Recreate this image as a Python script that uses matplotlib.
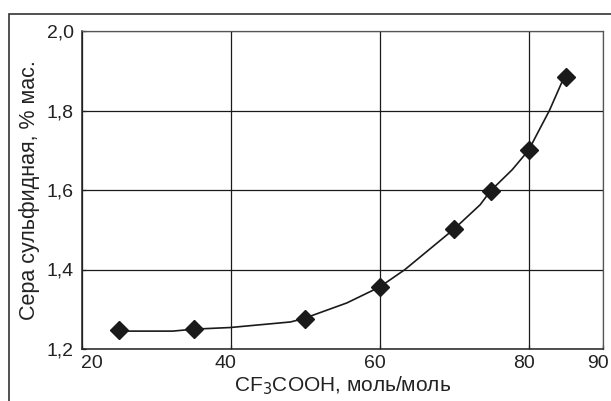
import matplotlib
matplotlib.use("Agg")
import matplotlib.pyplot as plt
from matplotlib.patches import Rectangle
from matplotlib.transforms import ScaledTranslation

plt.rcParams['font.family'] = ['Liberation Sans', 'DejaVu Sans']

# measured points
acid = [25, 35, 50, 60, 70, 75, 80, 85]
sulfur = [1.248, 1.250, 1.276, 1.356, 1.502, 1.598, 1.700, 1.885]

# smoothed trend line as drawn in the source
curve_x = [25.3, 32.2, 35.1, 39.9, 48.0, 49.7, 55.6, 60.0, 63.4, 70.0, 73.5, 74.9, 77.8, 80.0, 82.8, 84.8]
curve_y = [1.245, 1.245, 1.250, 1.254, 1.268, 1.276, 1.316, 1.356, 1.400, 1.502, 1.563, 1.598, 1.651, 1.700, 1.800, 1.885]

xticks = [20, 40, 60, 80, 90]
yticks = [1.2, 1.4, 1.6, 1.8, 2.0]
ytick_labels = ["1,2", "1,4", "1,6", "1,8", "2,0"]

fig = plt.figure(figsize=(6.11, 4.01), dpi=100)
ax = fig.add_axes([82/611, 1 - 349/401, (603 - 82)/611, (349 - 31)/401])

# outer frame of the figure
fig.patches.append(Rectangle((8.5/611, -0.1), 2.0, 1 - 13.5/401 + 0.1, transform=fig.transFigure,
                             fill=False, edgecolor="#333333", linewidth=1.2, clip_on=False))

ax.plot(curve_x, curve_y, color="#1a1a1a", linewidth=1.2, zorder=3)
ax.plot(acid, sulfur, linestyle="none", marker="D", markersize=9.5, color="#1a1a1a", zorder=4)

ax.set_xlim(20, 90)
ax.set_ylim(1.2, 2.0)
ax.set_xticks(xticks)
ax.set_yticks(yticks)
ax.set_yticklabels(ytick_labels)

ax.grid(True, color="#1a1a1a", linewidth=0.9)
ax.set_axisbelow(True)
for side in ("top", "right"):
    ax.spines[side].set_color("#555555")
    ax.spines[side].set_linewidth(0.9)
for side in ("bottom", "left"):
    ax.spines[side].set_color("#222222")
    ax.spines[side].set_linewidth(1.1)

ax.tick_params(direction="in", length=3, width=0.9, labelsize=14, pad=4, colors="#222222")
ax.tick_params(axis="y", pad=6)

# the source nudges the x tick labels a little
for i, lab in enumerate(ax.get_xticklabels()):
    dx = 10 if i == 0 else -5
    lab.set_transform(lab.get_transform() + ScaledTranslation(dx/100, 0, fig.dpi_scale_trans))

ax.set_xlabel("CF$_3$COOH, моль/моль", fontsize=15, labelpad=2, color="#222222")
ax.set_ylabel("Сера сульфидная, % мас.", fontsize=15.5, labelpad=5, color="#222222")

fig.savefig("out.png", dpi=100)
